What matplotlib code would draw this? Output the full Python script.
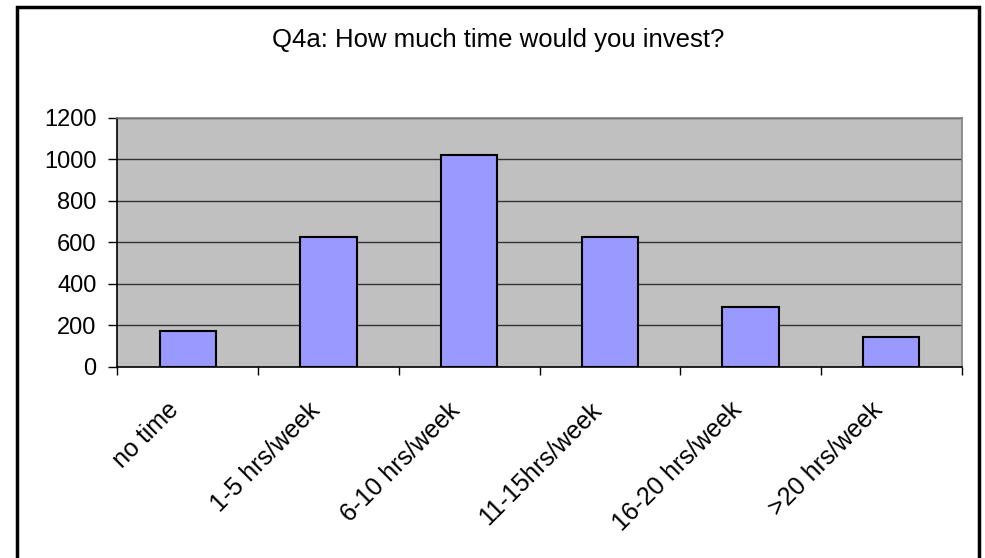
import matplotlib.pyplot as plt
from matplotlib.patches import Rectangle
from matplotlib.transforms import ScaledTranslation

categories = ["no time", "1-5 hrs/week", "6-10 hrs/week", "11-15hrs/week",
              "16-20 hrs/week", ">20 hrs/week"]
counts = [172, 624, 1020, 624, 288, 143]
yticks = [0, 200, 400, 600, 800, 1000, 1200]

plt.rcParams['font.family'] = ['Liberation Sans', 'DejaVu Sans']

W, H = 985, 558
fig = plt.figure(figsize=(W / 100, H / 100), dpi=100)

# outer chart frame
fig.patches.append(Rectangle((17 / W, -0.02), 962 / W, 1.02 - 6.7 / H,
                             transform=fig.transFigure, fill=False,
                             edgecolor='black', linewidth=2.5))

ax = fig.add_axes([117.3 / W, 191.3 / H, 844.4 / W, 248.7 / H])
ax.set_facecolor('#C0C0C0')
x = list(range(len(categories)))
ax.bar(x, counts, width=0.4, color='#9999FF', edgecolor='black',
       linewidth=1.5, zorder=3)
ax.set_xlim(-0.5, len(categories) - 0.5)
ax.set_ylim(0, 1200)
ax.set_yticks(yticks)
ax.set_yticklabels([str(v) for v in yticks], fontsize=17)
for v in yticks[1:]:
    ax.axhline(v, color='#333333', linewidth=1, zorder=1)

# category labels between boundary ticks
ax.set_xticks([i - 0.5 for i in range(len(categories) + 1)])
ax.set_xticklabels([])
ax.set_xticks(x, minor=True)
ax.set_xticklabels(categories, minor=True, rotation=45, ha='right',
                   rotation_mode='anchor', fontsize=18)
ax.tick_params(axis='x', which='minor', length=0, pad=16)
ax.tick_params(axis='x', which='major', length=6, width=1, direction='out')
ax.tick_params(axis='y', length=6.5, width=1, direction='out', pad=8.5)
shift = ScaledTranslation(-0.21, -0.09, fig.dpi_scale_trans)
for lbl in ax.get_xticklabels(minor=True):
    lbl.set_transform(lbl.get_transform() + shift)

for s in ['left', 'bottom']:
    ax.spines[s].set_color('black')
    ax.spines[s].set_linewidth(1.2)
for s in ['top', 'right']:
    ax.spines[s].set_color('#808080')
    ax.spines[s].set_linewidth(1.2)

fig.text(498 / W, 1 - 40 / H, "Q4a: How much time would you invest?",
         ha='center', va='center', fontsize=18.5)

plt.savefig("out.png", dpi=100)
